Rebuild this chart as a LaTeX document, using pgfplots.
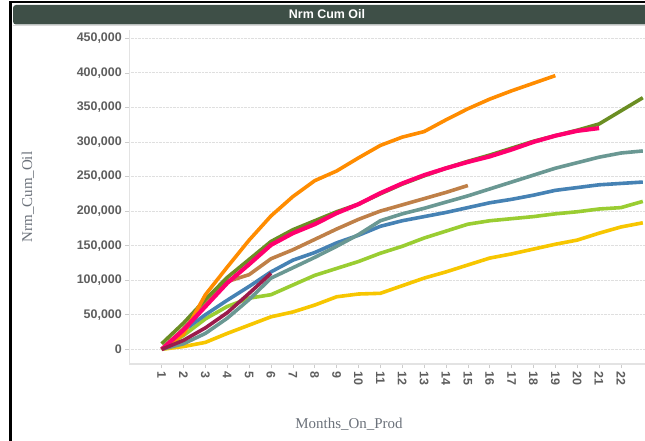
\documentclass[border=0pt]{standalone}
\usepackage{fontspec}
\setmainfont{Liberation Serif}
\newfontfamily\arial{Liberation Sans}
\usepackage{pgfplots}
\pgfplotsset{compat=1.18}
\definecolor{titlebg}{HTML}{3E4F47}
\definecolor{tickgray}{HTML}{5E5E5E}
\definecolor{labgray}{HTML}{6B717A}
\definecolor{cOrange}{HTML}{FF8C00}
\definecolor{cOlive}{HTML}{6B8E23}
\definecolor{cPink}{HTML}{FF006E}
\definecolor{cBrown}{HTML}{BF8048}
\definecolor{cTeal}{HTML}{6A9893}
\definecolor{cBlue}{HTML}{4682B4}
\definecolor{cYG}{HTML}{9ACD32}
\definecolor{cGold}{HTML}{F7C600}
\definecolor{cCrim}{HTML}{9B1B4B}
\begin{document}
\begin{tikzpicture}
\useasboundingbox (0bp,0bp) rectangle (645bp,441bp);
\fill[white] (0bp,0bp) rectangle (645bp,441bp);
\fill[black] (9bp,0bp) rectangle (12bp,439.5bp);
\fill[black] (9bp,437.5bp) rectangle (645bp,439.5bp);
\fill[titlebg, rounded corners=3bp] (13bp,416.5bp) rectangle (660bp,436bp);
\draw[gray!30, line width=0.8bp] (13bp,416bp) -- (645bp,416bp);
\node[white, font=\arial\bfseries\fontsize{12.5}{14}\selectfont] at (327bp,426.5bp) {Nrm Cum Oil};
\node[rotate=90, text=labgray, font=\fontsize{15}{17}\selectfont] at (28bp,244bp) {Nrm\_Cum\_Oil};
\node[text=labgray, font=\fontsize{15}{17}\selectfont] at (349bp,17bp) {Months\_On\_Prod};
\begin{axis}[
  at={(129.3bp,77bp)}, anchor=south west,
  scale only axis, width=515.7bp, height=334bp,
  xmin=-0.48, xmax=23.1, ymin=-21270, ymax=462000,
  axis lines*=left,
  axis line style={-, draw=gray!22, line width=1.3bp},
  xtick={1,...,22}, ytick={0,50000,...,450000},
  tick align=outside, major tick length=4bp,
  tick style={draw=gray!40, line width=0.6bp},
  ymajorgrids, grid style={densely dotted, draw=gray!25, line width=0.8bp},
  scaled y ticks=false,
  /pgf/number format/assume math mode=true,
  yticklabel style={font=\arial\bfseries\fontsize{12.5}{14}\selectfont, text=tickgray,
     /pgf/number format/fixed, /pgf/number format/1000 sep={,}},
  xticklabel style={rotate=-90, anchor=west, font=\arial\bfseries\fontsize{12.5}{14}\selectfont, text=tickgray},
  every axis plot/.append style={line width=3.6bp, line join=round, line cap=butt, mark=none},
]
\addplot[cGold] coordinates {(1,0)(2,4000)(3,10000)(4,23000)(5,35000)(6,47000)(7,54000)(8,64000)(9,76000)(10,80000)(11,81000)(12,92000)(13,103000)(14,112000)(15,122000)(16,132000)(17,138000)(18,145000)(19,152000)(20,158000)(21,168000)(22,177000)(23,183000)};
\addplot[cYG] coordinates {(1,0)(2,20000)(3,44000)(4,62000)(5,74000)(6,79000)(7,93000)(8,107000)(9,117000)(10,127000)(11,139000)(12,149000)(13,161000)(14,171000)(15,181000)(16,186000)(17,189000)(18,192000)(19,196000)(20,199000)(21,203000)(22,205000)(23,214000)};
\addplot[cBlue] coordinates {(1,0)(2,27000)(3,50000)(4,71000)(5,91000)(6,112000)(7,129000)(8,140000)(9,154000)(10,165000)(11,178000)(12,186000)(13,192000)(14,198000)(15,205000)(16,212000)(17,217000)(18,223000)(19,230000)(20,234000)(21,238000)(22,240000)(23,242000)};
\addplot[cTeal] coordinates {(1,0)(2,8000)(3,23000)(4,45000)(5,72000)(6,103000)(7,118000)(8,133000)(9,149000)(10,166000)(11,186000)(12,196000)(13,204000)(14,213000)(15,222000)(16,232000)(17,242000)(18,252000)(19,262000)(20,270000)(21,278000)(22,284000)(23,287000)};
\addplot[cBrown] coordinates {(1,0)(2,30000)(3,65000)(4,98000)(5,108000)(6,131000)(7,144000)(8,159000)(9,174000)(10,188000)(11,200000)(12,209000)(13,218000)(14,227000)(15,237000)};
\addplot[cOlive] coordinates {(1,8000)(2,38000)(3,72000)(4,104000)(5,130000)(6,156000)(7,173000)(8,186000)(9,199000)(10,210000)(11,225000)(12,239000)(13,251000)(14,262000)(15,272000)(16,281000)(17,291000)(18,301000)(19,309000)(20,317000)(21,326000)(22,345000)(23,364000)};
\addplot[cOrange] coordinates {(1,0)(2,22000)(3,79000)(4,119000)(5,158000)(6,193000)(7,221000)(8,244000)(9,258000)(10,277000)(11,295000)(12,307000)(13,315000)(14,332000)(15,348000)(16,362000)(17,374000)(18,385000)(19,396000)};
\addplot[cPink, line width=4.2bp] coordinates {(1,0)(2,28000)(3,62000)(4,96000)(5,123000)(6,151000)(7,168000)(8,181000)(9,197000)(10,210000)(11,226000)(12,240000)(13,252000)(14,262000)(15,271000)(16,279000)(17,289000)(18,300000)(19,309000)(20,316000)(21,320000)};
\addplot[cCrim] coordinates {(1,0)(2,13000)(3,31000)(4,53000)(5,81000)(6,110000)};
\end{axis}
\end{tikzpicture}
\end{document}
